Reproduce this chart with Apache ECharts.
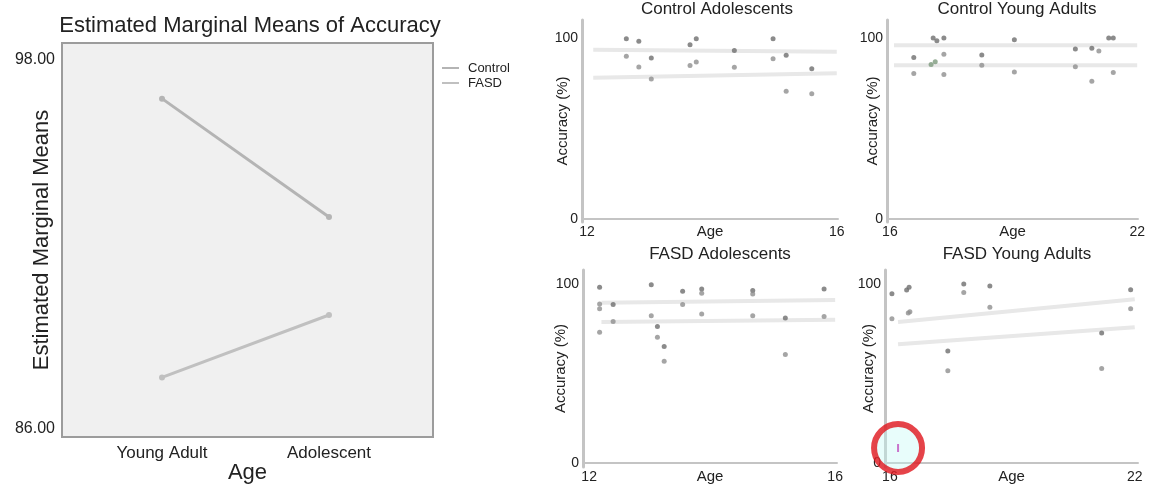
<!DOCTYPE html>
<html>
<head>
<meta charset="utf-8">
<script src="https://cdn.jsdelivr.net/npm/echarts@6/dist/echarts.min.js"></script>
<style>
html,body{margin:0;padding:0;background:#fff;}
#c{width:1149px;height:488px;}
</style>
</head>
<body>
<div id="c"></div>
<script>
// ---- Estimated marginal means (left chart) ----
const emmCategories = ['Young Adult', 'Adolescent'];
const emmControl = [96.73, 92.88];
const emmFASD = [87.66, 89.69];
const emmTicks = [86, 98];

// ---- Control Adolescents ----
const caUpper = [[12.63,99.6],[12.83,98.2],[13.03,89.0],[13.65,96.3],[13.75,99.6],[14.36,93.2],[14.98,99.6],[15.19,90.5],[15.6,83.1]];
const caLower = [[12.63,89.9],[12.83,84.0],[13.03,77.4],[13.65,84.8],[13.75,86.8],[14.36,83.9],[14.98,88.6],[15.19,70.6],[15.6,69.2]];
const caFitUpper = [[12.1,93.5],[16,92.5]];
const caFitLower = [[12.1,78],[16,80.5]];

// ---- Control Young Adults ----
const cyaUpper = [[16.58,89.2],[17.05,100],[17.14,98.5],[17.31,100],[18.23,90.7],[19.02,99.1],[20.5,94.0],[20.9,94.4],[21.31,100],[21.42,100]];
const cyaLower = [[16.58,80.4],[17.31,91.0],[17.31,79.8],[18.23,85.0],[19.02,81.3],[20.5,84.1],[21.07,92.9],[20.9,76.1],[21.42,80.9]];
const cyaGreen = [[17.0,85.4],[17.1,86.9]];
const cyaFitUpper = [[16.1,96],[22,96]];
const cyaFitLower = [[16.1,85],[22,85]];

// ---- FASD Adolescents ----
const faUpper = [[12.17,98.1],[12.39,88.5],[13.01,99.6],[13.11,76.2],[13.22,65.1],[13.52,95.9],[13.83,97.2],[14.66,96.3],[15.19,81.0],[15.82,97.2]];
const faLower = [[12.17,88.8],[12.17,86.1],[12.17,73.0],[12.39,79.0],[13.01,82.3],[13.11,70.3],[13.22,56.9],[13.52,88.5],[13.83,94.8],[13.83,83.3],[14.66,94.4],[14.66,82.3],[15.19,60.6],[15.82,81.8]];
const faFitUpper = [[12.2,89.5],[16,91]];
const faFitLower = [[12.2,78.8],[16,80]];

// ---- FASD Young Adults ----
const fyaUpper = [[16.05,94.6],[16.41,96.6],[16.47,98.1],[17.42,62.6],[17.81,100],[18.45,98.9],[21.19,72.6],[21.9,96.8]];
const fyaLower = [[16.05,80.6],[16.45,83.8],[16.49,84.5],[17.42,51.5],[17.81,95.2],[18.45,87.0],[21.19,52.8],[21.9,86.1]];
const fyaOutlier = [[16.2,8.4]];
const fyaFitUpper = [[16.2,78.7],[22,91.5]];
const fyaFitLower = [[16.2,66.3],[22,75.8]];

const panelTitles = ['Control Adolescents','Control Young Adults','FASD Adolescents','FASD Young Adults'];
const adolAgeTicks = [12, 16];
const yaAgeTicks = [16, 22];
const accTicks = [0, 100];

const FONT = "'Liberation Sans', Arial, sans-serif";
const chart = echarts.init(document.getElementById('c'), null, {renderer:'canvas'});

const panels = [
  {grid:{left:582,top:20,width:256,height:202}, xmin:11.92, xmax:16.02, ymin:-1.7, ymax:110, xt:adolAgeTicks, nameGap:12, tx:717, ty:1},
  {grid:{left:887,top:20,width:251,height:202}, xmin:15.93, xmax:22.02, ymin:-1.7, ymax:110, xt:yaAgeTicks, nameGap:7, tx:1017, ty:1},
  {grid:{left:583,top:270,width:254,height:197}, xmin:11.9, xmax:16.03, ymin:-2.2, ymax:107.8, xt:adolAgeTicks, nameGap:15, tx:720, ty:246},
  {grid:{left:885,top:270,width:253,height:197}, xmin:15.88, xmax:22.08, ymin:-2.2, ymax:107.8, xt:yaAgeTicks, nameGap:9, tx:1017, ty:246}
];

const grids = [{left:62, top:43, width:371, height:394, show:true, backgroundColor:'#f0f0f0', borderColor:'#9c9c9c', borderWidth:2, containLabel:false, outerBoundsMode:'none'}];
const xAxes = [{
  type:'value', gridIndex:0, min:-0.599, max:1.623,
  axisLine:{show:false}, axisTick:{show:false}, splitLine:{show:false},
  axisLabel:{customValues:[0,1], formatter:v=>emmCategories[Math.round(v)], fontSize:17, color:'#222', fontFamily:FONT, margin:8},
  name:'Age', nameLocation:'middle', nameGap:25, nameMoveOverlap:false, nameTextStyle:{fontSize:22, color:'#222', fontFamily:FONT}
}];
const yAxes = [{
  type:'value', gridIndex:0, min:85.72, max:98.54,
  axisLine:{show:false}, axisTick:{show:false}, splitLine:{show:false},
  axisLabel:{customValues:emmTicks, formatter:v=>v.toFixed(2), fontSize:16, color:'#222', fontFamily:FONT, margin:7},
  name:'Estimated Marginal Means', nameLocation:'middle', nameRotate:90, nameGap:9, nameMoveOverlap:false,
  nameTextStyle:{fontSize:22, color:'#222', fontFamily:FONT}
}];
const titles = [{text:'Estimated Marginal Means of Accuracy', left:250, top:15, textAlign:'center', padding:0,
  textStyle:{fontSize:22, fontWeight:'normal', color:'#222', fontFamily:FONT}}];

panels.forEach((p,i)=>{
  grids.push(Object.assign({containLabel:false, outerBoundsMode:'none'}, p.grid));
  xAxes.push({
    type:'value', gridIndex:i+1, min:p.xmin, max:p.xmax,
    axisLine:{show:true, lineStyle:{color:'#c4c4c4', width:2}}, axisTick:{show:false}, splitLine:{show:false},
    axisLabel:{customValues:p.xt, fontSize:14, color:'#222', fontFamily:FONT, margin:3},
    name:'Age', nameLocation:'middle', nameGap:2, nameMoveOverlap:false, nameTextStyle:{fontSize:15, color:'#222', fontFamily:FONT}
  });
  yAxes.push({
    type:'value', gridIndex:i+1, min:p.ymin, max:p.ymax,
    axisLine:{show:true, lineStyle:{color:'#c4c4c4', width:3}}, axisTick:{show:false}, splitLine:{show:false},
    axisLabel:{customValues:accTicks, fontSize:14, color:'#222', fontFamily:FONT, margin:4},
    name:'Accuracy (%)', nameLocation:'middle', nameRotate:90, nameGap:p.nameGap, nameMoveOverlap:false,
    nameTextStyle:{fontSize:15, color:'#222', fontFamily:FONT}
  });
  titles.push({text:panelTitles[i], left:p.tx, top:p.ty, textAlign:'center', padding:0,
    textStyle:{fontSize:17, fontWeight:'normal', color:'#222', fontFamily:FONT}});
});

const series = [
  {name:'Control', type:'line', xAxisIndex:0, yAxisIndex:0, data:emmControl.map((v,i)=>[i,v]),
    lineStyle:{color:'#b4b4b4', width:3}, itemStyle:{color:'#b4b4b4'}, symbol:'circle', symbolSize:6},
  {name:'FASD', type:'line', xAxisIndex:0, yAxisIndex:0, data:emmFASD.map((v,i)=>[i,v]),
    lineStyle:{color:'#c0c0c0', width:3}, itemStyle:{color:'#c0c0c0'}, symbol:'circle', symbolSize:6}
];
function fit(idx, data){
  series.push({type:'line', xAxisIndex:idx, yAxisIndex:idx, data:data, showSymbol:false, silent:true, z:1,
    lineStyle:{color:'#e8e8e8', width:4}});
}
function pts(idx, data, color){
  series.push({type:'scatter', xAxisIndex:idx, yAxisIndex:idx, data:data, symbolSize:5, z:3,
    itemStyle:{color:color}});
}
fit(1, caFitUpper); fit(1, caFitLower); pts(1, caUpper, '#6e6e6e'); pts(1, caLower, '#8e8e8e');
fit(2, cyaFitUpper); fit(2, cyaFitLower); pts(2, cyaUpper, '#6e6e6e'); pts(2, cyaLower, '#8e8e8e'); pts(2, cyaGreen, '#7d9a7d');
fit(3, faFitUpper); fit(3, faFitLower); pts(3, faUpper, '#6e6e6e'); pts(3, faLower, '#8e8e8e');
fit(4, fyaFitUpper); fit(4, fyaFitLower); pts(4, fyaUpper, '#6e6e6e'); pts(4, fyaLower, '#8e8e8e');
series.push({type:'scatter', xAxisIndex:4, yAxisIndex:4, data:fyaOutlier, symbolSize:48, z:4,
  itemStyle:{color:'rgba(190,250,245,0.45)', borderColor:'#e0141c', borderWidth:6}});
series.push({type:'scatter', xAxisIndex:4, yAxisIndex:4, data:fyaOutlier, symbol:'rect', symbolSize:[2,8], z:5,
  itemStyle:{color:'#c050c0'}});

chart.setOption({
  backgroundColor:'#ffffff',
  animation:false,
  title:titles,
  legend:{data:['Control','FASD'], orient:'vertical', left:442, top:61, padding:0, itemWidth:17, itemHeight:2, itemGap:1,
    icon:'rect', textStyle:{fontSize:13, color:'#222', fontFamily:FONT, lineHeight:14, padding:[0,0,0,4]}},
  grid:grids, xAxis:xAxes, yAxis:yAxes, series:series
});
</script>
</body>
</html>
